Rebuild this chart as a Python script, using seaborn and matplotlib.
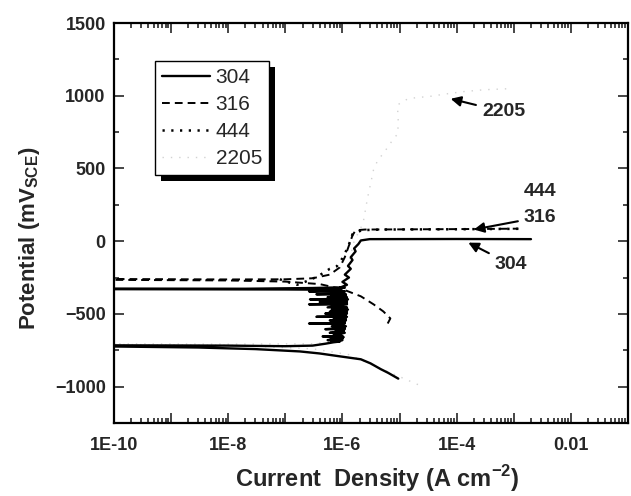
import numpy as np
import pandas as pd
import matplotlib
matplotlib.use("Agg")
import matplotlib.pyplot as plt
import matplotlib.ticker as mticker
from matplotlib.patches import Rectangle
import seaborn as sns

# ---------------- data ----------------
# 304: cathodic branch -> Ecorr -> passive region with metastable pitting spikes -> breakdown
i304 = [9.5e-6, 6.3e-6, 4.7e-6, 3.1e-6, 2.1e-6, 9.1e-7, 4e-7, 1.8e-7, 3e-8, 3e-9, 1e-10,
        1e-10, 1e-8, 1e-7, 3e-7, 5e-7, 7e-7,
        9e-7, 6.5e-7, 1.0e-6, 5.5e-7, 1.0e-6, 8e-7, 1.05e-6, 6e-7, 1.0e-6, 4.5e-7, 1.0e-6,
        7e-7, 1.1e-6, 6e-7, 1.05e-6, 7.5e-7, 1.1e-6, 5e-7, 1.1e-6, 7e-7, 1.15e-6, 6.5e-7,
        1.1e-6, 2.6e-7, 1.1e-6, 6.5e-7, 1.15e-6, 6e-7, 1.15e-6, 7e-7, 1.2e-6, 3.5e-7,
        1.15e-6, 6.5e-7, 1.2e-6, 5e-7, 1.2e-6, 6e-7, 1.25e-6, 6.5e-7, 1.2e-6, 5.5e-7,
        1.2e-6, 2.6e-7, 1.2e-6, 6e-7, 1.2e-6, 4e-7, 1.2e-6, 6e-7, 1.25e-6, 2.7e-7, 1.2e-6,
        6e-7, 1.2e-6, 5.5e-7, 1.15e-6, 6.5e-7, 1.15e-6, 3.5e-7, 1.1e-6, 6.5e-7, 1.1e-6,
        2.6e-7, 1.0e-6,
        8e-7, 1e-7, 3e-9, 1e-10, 1e-10, 2e-8, 3e-7, 8e-7, 1.1e-6,
        9e-7, 1.2e-6, 1.0e-6, 1.3e-6, 1.1e-6, 1.4e-6, 1.25e-6, 1.5e-6, 1.4e-6, 1.7e-6,
        1.6e-6, 1.9e-6, 2.1e-6, 3e-6, 1e-4, 2e-3]
e304 = [-945, -905, -880, -840, -812, -792, -772, -758, -742, -731, -724,
        -716, -718, -722, -718, -705, -695,
        -690, -690, -680, -680, -670, -670, -660, -660, -655, -655, -652,
        -645, -630, -630, -620, -620, -605, -605, -595, -595, -585, -585,
        -566, -566, -562, -555, -545, -545, -535, -535, -520, -520,
        -516, -510, -498, -498, -485, -485, -470, -470, -455, -455,
        -434, -434, -430, -425, -418, -418, -408, -408, -400, -400, -396,
        -392, -385, -385, -375, -375, -365, -365, -360, -355, -345,
        -345, -341,
        -334, -332, -331, -330, -326, -327, -322, -318, -320,
        -320, -300, -280, -250, -230, -190, -170, -130, -110, -70,
        -50, -20, 5, 14, 15, 14]

# 316: cathodic branch -> Ecorr -> passive -> breakdown
i316 = [6.2e-6, 6.9e-6, 5.2e-6, 3.5e-6, 2.1e-6, 1e-6, 4e-7, 1e-7, 1e-8, 1e-10,
        1e-10, 1e-8, 1e-7, 3e-7, 6e-7, 9e-7, 1.1e-6, 1.3e-6, 1.5e-6, 1.7e-6,
        2.5e-6, 1e-4, 1.2e-3]
e316 = [-566, -531, -483, -434, -379, -330, -295, -278, -270, -266,
        -260, -263, -262, -255, -230, -180, -110, -30, 40, 75,
        80, 83, 86]

# 444
i444 = [8e-8, 1.3e-7, 1.6e-7, 2.2e-7, 2.8e-7, 3.6e-7, 4.5e-7, 6e-7, 8e-7, 1e-6,
        1.2e-6, 1.4e-6, 1.5e-6, 2.2e-6, 5e-6, 1e-4, 1.2e-3]
e444 = [-262, -290, -300, -280, -262, -245, -221, -190, -172, -117,
        -55, 10, 48, 76, 80, 82, 85]

# 2205
i2205 = [2.1e-5, 4.7e-6, 1.3e-6, 3e-7, 1e-8, 1e-10,
         1e-10, 1e-8, 3e-7, 7e-7, 9e-7, 1e-6, 1.2e-6, 1.6e-6, 2.3e-6, 2.75e-6,
         3.5e-6, 4.1e-6, 5.6e-6, 7.8e-6, 9.3e-6, 9.5e-6, 9.3e-6, 9.3e-6, 1.4e-5,
         1.9e-5, 4.3e-5, 5.2e-5, 1.3e-4, 3e-4, 7.9e-4]
e2205 = [-986, -876, -780, -740, -715, -710,
         -705, -708, -705, -690, -641, -500, -200, 0, 124, 297,
         490, 552, 621, 703, 738, 828, 862, 938, 979,
         986, 1000, 1007, 1028, 1041, 1048]

series_names = ["304", "316", "444", "2205"]

xtick_vals = [1e-10, 1e-9, 1e-8, 1e-7, 1e-6, 1e-5, 1e-4, 1e-3, 1e-2, 1e-1]
xtick_labels = ["1E-10", "", "1E-8", "", "1E-6", "", "1E-4", "", "0.01", ""]
ytick_vals = [-1000, -500, 0, 500, 1000, 1500]

# annotations: (label, text position, arrow tip)
ann_2205 = ("2205", (6.6e-4, 890), (7.85e-5, 979))
ann_444 = ("444", (2.9e-3, 345))
ann_316 = ("316", (2.9e-3, 166), (2.0e-4, 80))
ann_304 = ("304", (8.9e-4, -160), (1.6e-4, -10))

# ---------------- styling ----------------
sns.set_style("ticks")
plt.rcParams["font.family"] = ["Liberation Sans", "DejaVu Sans"]
plt.rcParams["mathtext.fontset"] = "custom"
plt.rcParams["mathtext.rm"] = "Liberation Sans"
plt.rcParams["mathtext.bf"] = "Liberation Sans:bold"
plt.rcParams["axes.unicode_minus"] = True

fig = plt.figure(figsize=(6.31, 4.96), dpi=100)
ax = fig.add_axes([114 / 631, 1 - 423 / 496, (628 - 114) / 631, (423 - 23) / 496])
ax.set_xscale("log")

styles = {
    "304": dict(color="black", lw=1.7, linestyle="-"),
    "316": dict(color="black", lw=1.4, linestyle=(0, (4, 2.6))),
    "444": dict(color="black", lw=1.8, linestyle=(0, (0.9, 2.6))),
    "2205": dict(color="#d2d2d2", lw=1.0, linestyle=(0, (1, 5))),
}
data = {
    "304": (i304, e304),
    "316": (i316, e316),
    "444": (i444, e444),
    "2205": (i2205, e2205),
}
for name in ["2205", "444", "316", "304"]:
    xs, ys = data[name]
    df = pd.DataFrame({"current": xs, "potential": ys})
    sns.lineplot(data=df, x="current", y="potential", sort=False, estimator=None,
                 ax=ax, label=name, **styles[name])

ax.set_xlim(1e-10, 1e-1)
ax.set_ylim(-1250, 1500)

ax.set_xticks(xtick_vals)
ax.set_xticklabels(xtick_labels)
ax.xaxis.set_minor_locator(mticker.LogLocator(base=10, subs=np.arange(2, 10), numticks=30))
ax.xaxis.set_minor_formatter(mticker.NullFormatter())
ax.set_yticks(ytick_vals)
ax.yaxis.set_minor_locator(mticker.MultipleLocator(250))

ax.tick_params(which="both", direction="in", top=True, right=True, width=1.2)
ax.tick_params(which="major", length=7)
ax.tick_params(which="minor", length=3.5)
ax.tick_params(axis="x", which="major", pad=10)
ax.tick_params(axis="y", which="major", pad=6)
for lab in ax.get_xticklabels() + ax.get_yticklabels():
    lab.set_fontsize(13)
    lab.set_fontweight("bold")
for sp in ax.spines.values():
    sp.set_linewidth(1.6)
    sp.set_color("black")

ax.set_xlabel("Current  Density (A cm$^{\\mathbf{-2}}$)", fontsize=17, fontweight="bold")
ax.set_ylabel("Potential (mV$_{\\mathbf{SCE}}$)", fontsize=16, fontweight="bold")
ax.xaxis.set_label_coords(0.512, -0.1)
ax.yaxis.set_label_coords(-0.14, 0.4625)

# legend
handles, labels = ax.get_legend_handles_labels()
order = [labels.index(n) for n in series_names]
leg = ax.legend([handles[k] for k in order], [labels[k] for k in order],
                loc="upper left", bbox_to_anchor=(0.08, 0.905), borderaxespad=0,
                fancybox=False, frameon=True, edgecolor="black", framealpha=1,
                prop={"family": "Liberation Sans", "size": 15},
                handlelength=2.3, handletextpad=0.25, labelspacing=0.38,
                borderpad=0.35)
leg.get_frame().set_linewidth(1.0)

# annotations
arrow = dict(arrowstyle="-|>", color="black", lw=1.5, mutation_scale=15, shrinkA=2, shrinkB=0)
txt_kw = dict(fontsize=14, fontweight="bold", ha="center", va="center")
ax.annotate(ann_2205[0], xy=ann_2205[2], xytext=ann_2205[1], arrowprops=arrow, **txt_kw)
ax.annotate(ann_316[0], xy=ann_316[2], xytext=ann_316[1], arrowprops=arrow, **txt_kw)
ax.text(ann_444[1][0], ann_444[1][1], ann_444[0], **txt_kw)
ax.annotate(ann_304[0], xy=ann_304[2], xytext=ann_304[1], arrowprops=arrow, **txt_kw)

# legend shadow (black, offset down-right)
fig.canvas.draw()
bb = leg.get_window_extent().transformed(ax.transAxes.inverted())
off_x = 6 / (628 - 114)
off_y = 6 / (423 - 23)
ax.add_patch(Rectangle((bb.x0 + off_x, bb.y0 - off_y), bb.width, bb.height,
                       transform=ax.transAxes, facecolor="black", edgecolor="none",
                       zorder=4.5, clip_on=False))
leg.set_zorder(5)

fig.savefig("out.png", dpi=100)
